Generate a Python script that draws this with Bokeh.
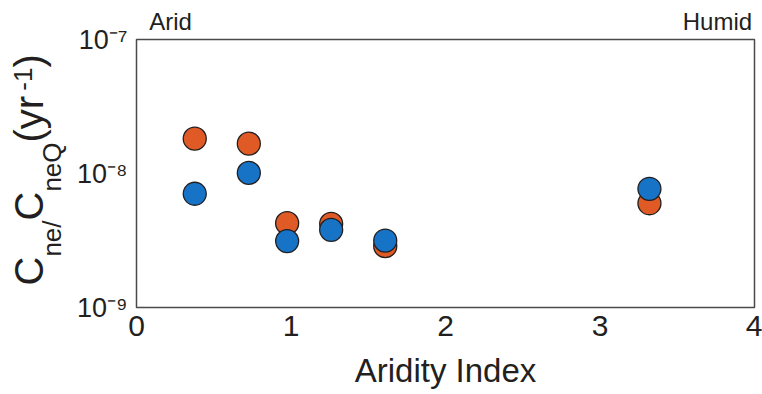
import math

from bokeh.core.properties import value
from bokeh.embed import file_html
from bokeh.layouts import row
from bokeh.models import (ColumnDataSource, CustomJSTickFormatter, FixedTicker,
                          LinearAxis, Range1d)
from bokeh.plotting import figure
from bokeh.resources import INLINE

# Aridity index of each site and the two rate estimates (yr^-1)
aridity = [0.377, 0.727, 0.975, 1.26, 1.61, 3.32]
rate_orange = [1.82e-8, 1.67e-8, 4.26e-9, 4.21e-9, 2.87e-9, 6.0e-9]
rate_blue = [7.06e-9, 1.01e-8, 3.13e-9, 3.80e-9, 3.16e-9, 7.69e-9]

x_ticks = [0, 1, 2, 3, 4]
y_ticks = [1e-9, 1e-8, 1e-7]
end_labels = ["Arid", "Humid"]
end_label_at = [0.22, 3.76]

ORANGE = "#DF5A24"
BLUE = "#1673C5"
EDGE = "#231F20"
TEXT = "#231F20"
SANS = "Liberation Sans"

H = 394
LAB_W = 68
TOP, BOTTOM = 39, 87

p = figure(
    width=762 - LAB_W, height=H,
    x_range=Range1d(x_ticks[0], x_ticks[-1]),
    y_range=Range1d(y_ticks[0], y_ticks[-1]),
    y_axis_type="log",
    output_backend="svg", toolbar_location=None,
    min_border_left=136 - LAB_W, min_border_right=8,
    min_border_top=TOP, min_border_bottom=BOTTOM,
)
p.background_fill_color = "white"
p.border_fill_color = "white"
p.outline_line_color = "#4A4A4A"
p.outline_line_width = 1.5
p.xgrid.visible = False
p.ygrid.visible = False

for ax in (p.xaxis, p.yaxis):
    ax.axis_line_color = None
    ax.major_tick_line_color = None
    ax.minor_tick_line_color = None
    ax.major_tick_out = 0
    ax.major_tick_in = 0
    ax.minor_tick_out = 0
    ax.major_label_text_font = SANS
    ax.major_label_text_color = TEXT

p.xaxis.ticker = FixedTicker(ticks=x_ticks)
p.xaxis.major_label_text_font_size = "30px"
p.xaxis.major_label_standoff = 8
p.xaxis.axis_label = "Aridity Index"
p.xaxis.axis_label_text_font = SANS
p.xaxis.axis_label_text_font_style = "normal"
p.xaxis.axis_label_text_font_size = "33px"
p.xaxis.axis_label_text_color = TEXT
p.xaxis.axis_label_standoff = 13

p.yaxis.ticker = FixedTicker(ticks=y_ticks, minor_ticks=[])
p.yaxis.major_label_text_font_size = "27px"
p.yaxis.major_label_standoff = 9
p.yaxis.formatter = CustomJSTickFormatter(code=r"""
const sup = {"-": "\u207B", "0": "\u2070", "1": "\u00B9", "2": "\u00B2",
             "3": "\u00B3", "4": "\u2074", "5": "\u2075", "6": "\u2076",
             "7": "\u2077", "8": "\u2078", "9": "\u2079"};
const e = String(Math.round(Math.log10(tick)));
return "10" + e.split("").map(c => sup[c]).join("");
""")

# "Arid" / "Humid" at the two ends of the scale, on an axis above the frame
top = LinearAxis(
    ticker=FixedTicker(ticks=end_label_at),
    formatter=CustomJSTickFormatter(args=dict(labels=end_labels),
                                    code="return labels[index];"),
    axis_line_color=None, major_tick_line_color=None, minor_tick_line_color=None,
    major_tick_out=0, major_tick_in=0, minor_tick_out=0,
    major_label_text_font=SANS, major_label_text_font_size="24px",
    major_label_text_color=TEXT, major_label_standoff=5,
)
p.add_layout(top, "above")

# the two series, blue drawn over orange
p.scatter(aridity, rate_orange, size=23, fill_color=ORANGE, line_color=EDGE,
          line_width=1.3)
p.scatter(aridity, rate_blue, size=23, fill_color=BLUE, line_color=EDGE,
          line_width=1.3)

# vertical axis title, C_ne/ C_neQ (yr^-1), set piece by piece in a side strip
# whose frame shares the main frame's top and bottom; its y range is in
# pixels counted up from the bottom of the page
BIG, SMALL = 40, 26
widths = {"C": 0.722, "n": 0.556, "e": 0.556, "/": 0.278, "Q": 0.778, " ": 0.278,
          "(": 0.333, "y": 0.5, "r": 0.333, "-": 0.333, "1": 0.556, ")": 0.333}
# (text, font size, sideways position of the piece, gap before it)
pieces = [("C", BIG, 28, 0), ("ne/", SMALL, 51, 0), ("C", BIG, 28, 0),
          ("neQ", SMALL, 51, 0), (" (yr", BIG, 28, 0), ("-1", SMALL, 22, -6),
          (")", BIG, 28, 0)]
start = 285  # pixels from the top where the title begins
xs, ys, texts, sizes = [], [], [], []
pos = start
for txt, size, px, gap in pieces:
    pos -= gap
    xs.append(px)
    ys.append(H - pos)
    texts.append(txt)
    sizes.append(f"{size}px")
    pos -= sum(widths[c] for c in txt) * size

lab = figure(width=LAB_W, height=H, x_range=Range1d(0, LAB_W),
             y_range=Range1d(BOTTOM, H - TOP),
             output_backend="svg", toolbar_location=None,
             min_border_left=0, min_border_right=0,
             min_border_top=TOP, min_border_bottom=BOTTOM,
             x_axis_location=None, y_axis_location=None)
lab.outline_line_color = None
lab.background_fill_color = "white"
lab.border_fill_color = "white"
lab.xgrid.visible = False
lab.ygrid.visible = False
src = ColumnDataSource(dict(x=xs, y=ys, text=texts, size=sizes))
lab.text(x="x", y="y", text="text", source=src, angle=math.pi / 2,
         text_font_size="size", text_font=value(SANS),
         text_color=TEXT, text_baseline="alphabetic", text_align="left")

open("out.html", "w").write(file_html(row(lab, p), INLINE))
